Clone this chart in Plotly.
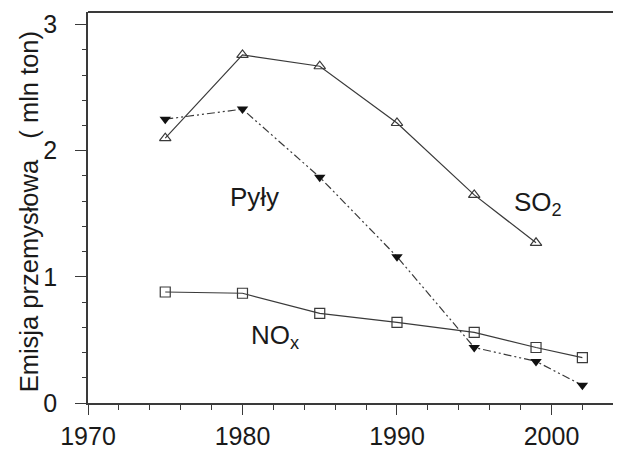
import plotly.graph_objects as go

years_so2 = [1975, 1980, 1985, 1990, 1995, 1999]
so2 = [2.10, 2.76, 2.67, 2.22, 1.65, 1.27]

years_pyly = [1975, 1980, 1985, 1990, 1995, 1999, 2002]
pyly = [2.25, 2.33, 1.79, 1.16, 0.44, 0.33, 0.14]

years_nox = [1975, 1980, 1985, 1990, 1995, 1999, 2002]
nox = [0.88, 0.87, 0.71, 0.64, 0.56, 0.44, 0.36]

x_ticks = [1970, 1980, 1990, 2000]
y_ticks = [0, 1, 2, 3]

LC = "#3a3a3a"
TC = "#1a1a1a"
FONT = "Liberation Sans, Arial, sans-serif"

fig = go.Figure()
fig.add_trace(go.Scatter(
    x=years_so2, y=so2, mode="lines+markers",
    line=dict(color=LC, width=1.2),
    marker=dict(symbol="triangle-up-open", size=10, color=LC, line=dict(width=1.2)),
    showlegend=False))
fig.add_trace(go.Scatter(
    x=years_pyly, y=pyly, mode="lines+markers",
    line=dict(color=LC, width=1.2, dash="8px,3px,2px,3px,2px,3px"),
    marker=dict(symbol="triangle-down", size=10, color="#111111"),
    showlegend=False))
fig.add_trace(go.Scatter(
    x=years_nox, y=nox, mode="lines+markers",
    line=dict(color=LC, width=1.2),
    marker=dict(symbol="square-open", size=10, color=LC, line=dict(width=1.2)),
    showlegend=False))

ann_font = dict(family=FONT, size=26, color=TC)
fig.add_annotation(x=1980.8, y=1.63, text="Pyły", showarrow=False, font=ann_font)
fig.add_annotation(x=1999.1, y=1.58, text="SO<sub>2</sub>", showarrow=False, font=ann_font)
fig.add_annotation(x=1982.1, y=0.53, text="NO<sub>x</sub>", showarrow=False, font=ann_font)

fig.add_annotation(x=-0.109, y=0.49, xref="paper", yref="paper", xanchor="center", yanchor="middle",
                   text="Emisja przemysłowa   ( mln ton)", textangle=-90, showarrow=False,
                   font=dict(family=FONT, size=25.5, color=TC))

fig.add_shape(type="line", xref="paper", yref="paper", x0=0, x1=1, y0=1, y1=1,
              line=dict(color=LC, width=2))

# page body has an 8px margin, so the figure is 8px smaller and margins shifted
fig.update_layout(
    width=613, height=444,
    margin=dict(l=80, r=0, t=4, b=49),
    paper_bgcolor="white", plot_bgcolor="white",
    font=dict(family=FONT, size=24, color=TC),
)
fig.update_xaxes(
    range=[1970, 2004.5], tickvals=x_ticks, ticks="outside", ticklen=10, tickwidth=1.2,
    tickcolor=LC, showline=True, linecolor=LC, linewidth=1.5, showgrid=False, zeroline=False,
    minor=dict(dtick=2, tick0=1970, ticks="outside", ticklen=5, tickcolor=LC, tickwidth=1.2, showgrid=False),
    tickfont=dict(size=25, color=TC), automargin=False)
fig.update_yaxes(
    range=[0, 3.1], tickvals=y_ticks, ticks="outside", ticklen=11, tickwidth=1.2,
    tickcolor=LC, showline=True, linecolor=LC, linewidth=1.5, showgrid=False, zeroline=False,
    minor=dict(dtick=0.2, tick0=0, ticks="outside", ticklen=4, tickcolor=LC, tickwidth=1.2, showgrid=False),
    tickfont=dict(size=25, color=TC), ticklabelstandoff=13, automargin=False)

fig.write_html("out.html")
